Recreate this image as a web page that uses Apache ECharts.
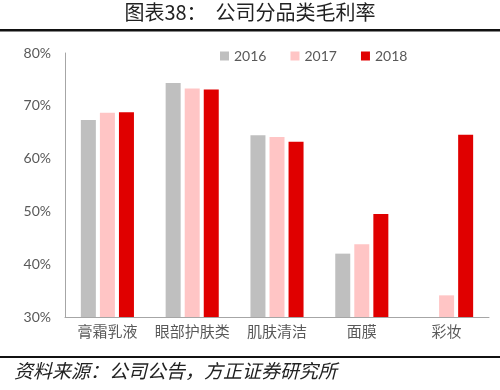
<!DOCTYPE html>
<html><head><meta charset="utf-8">
<script src="https://cdn.jsdelivr.net/npm/echarts@6/dist/echarts.min.js"></script>
<style>html,body{margin:0;padding:0;background:#fff}#c{width:500px;height:390px}</style>
</head><body><div id="c"></div>
<script>
const categories = ['膏霜乳液','眼部护肤类','肌肤清洁','面膜','彩妆'];
const s2016 = [67.3, 74.3, 64.4, 42.0, null];
const s2017 = [68.7, 73.3, 64.1, 43.8, 34.1];
const s2018 = [68.8, 73.1, 63.2, 49.5, 64.5];
const seriesNames = ['2016','2017','2018'];
const titleText = '图表38：  公司分品类毛利率';
const sourceText = '资料来源：公司公告，方正证券研究所';

const colors = ['#BFBFBF','#FFC5C5','#E00000'];
const chart = echarts.init(document.getElementById('c'), null, {renderer:'canvas'});
const mk = (name, data, i) => ({
  name, type:'bar', data, barWidth:15, barGap:'27%',
  itemStyle:{color:colors[i]}
});
chart.setOption({
  animation:false,
  backgroundColor:'#fff',
  graphic:[
    {type:'text', left:'center', top:2, style:{text:titleText, font:'20px "Noto Sans CJK SC"', fill:'#222'}},
    {type:'rect', shape:{x:0,y:29,width:500,height:2.5}, style:{fill:'#111'}},
    {type:'rect', shape:{x:0,y:356,width:500,height:2}, style:{fill:'#111'}},
    {type:'text', left:14, top:361, style:{text:sourceText, font:'italic 19px "Noto Sans CJK SC"', fill:'#222'}}
  ],
  legend:{
    data:seriesNames, top:44, left:215, itemWidth:9, itemHeight:9, itemGap:24,
    textStyle:{color:'#595959', fontSize:14, fontFamily:'Lato'}, icon:'rect'
  },
  grid:{left:65, right:11, top:53, bottom:73},
  xAxis:{
    type:'category', data:categories,
    axisLine:{lineStyle:{color:'#A6A6A6'}}, axisTick:{show:false},
    axisLabel:{color:'#595959', fontSize:15, fontFamily:'"Noto Sans CJK SC"', margin:7, interval:0}
  },
  yAxis:{
    type:'value', min:30, max:80, interval:10,
    axisLine:{show:true, lineStyle:{color:'#A6A6A6'}}, axisTick:{show:false},
    splitLine:{show:false},
    axisLabel:{color:'#595959', fontSize:14, fontFamily:'Lato', margin:14, formatter:'{value}%'}
  },
  series:[mk(seriesNames[0], s2016, 0), mk(seriesNames[1], s2017, 1), mk(seriesNames[2], s2018, 2)]
});
</script></body></html>
